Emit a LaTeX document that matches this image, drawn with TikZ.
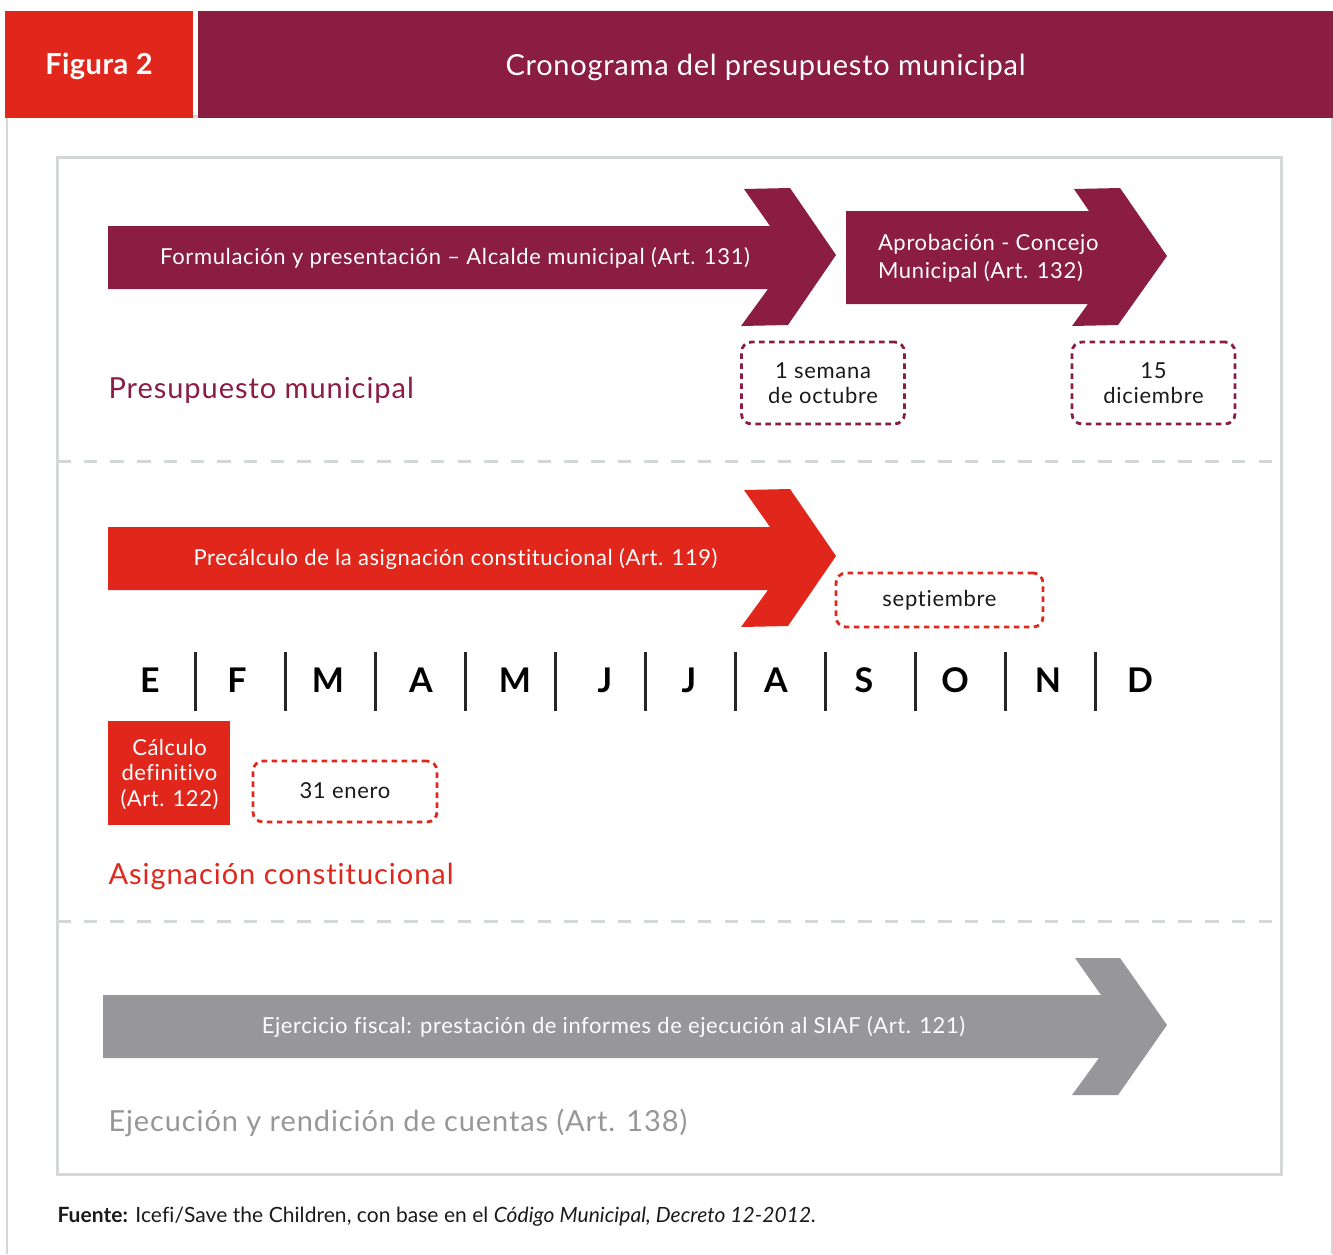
\documentclass[tikz,border=0pt]{standalone}
\usepackage{fontspec}
\setmainfont{Lato}[Ligatures=NoCommon]
\definecolor{maroon}{HTML}{8B1C42}
\definecolor{redc}{HTML}{E1271C}
\definecolor{grayc}{HTML}{97969B}
\definecolor{framec}{HTML}{D3D8D6}
\definecolor{inkc}{HTML}{1A1A1A}
\newcommand{\fs}[3]{\fontsize{#1}{#2}\selectfont\addfontfeature{LetterSpace=#3}}
\tikzset{
  lbl/.style={inner sep=0pt,outer sep=0pt,align=center},
  arrowtext/.style={lbl,text=white,font=\fs{22}{28}{3.0}},
  datebox/.style={lbl,draw=#1,line width=2.8pt,dash pattern=on 5.5pt off 4.5pt,rounded corners=10pt,text=inkc,font=\fs{22}{25.5}{3.2}},
  heading/.style={lbl,anchor=west,font=\fs{29}{34}{3.3}},
  month/.style={lbl,text=black,font=\bfseries\fs{34}{36}{0}},
  sep/.style={line width=3pt,draw=black!85},
  dashsep/.style={line width=3pt,draw=framec,dash pattern=on 13.5pt off 13.2pt},
}
\begin{document}
\begin{tikzpicture}[x=1pt,y=-1pt]
\useasboundingbox (0,0) rectangle (1333,1254);
% outer frame
\draw[framec,line width=2.4pt] (7,118) -- (7,1254);
\draw[framec,line width=2.4pt] (1332,118) -- (1332,1254);
% header
\fill[redc] (5,11) rectangle (193,118);
\fill[maroon] (198,11) rectangle (1333,118);
\fill[framec] (193,115) rectangle (198,118);
\node[lbl,text=white,font=\bfseries\fs{29}{32}{1.6}] (fig) at (99,66) {Figura 2};
\node[lbl,text=white,font=\fs{29}{34}{2.6}] (title) at (765.5,67.5) {Cronograma del presupuesto municipal};
% inner frame
\draw[framec,line width=3pt] (57,157) rectangle (1281.5,1174);
\draw[dashsep] (57,461) -- (1281.5,461);
\draw[dashsep] (57,921) -- (1281.5,921);
% arrows
\fill[maroon] (108,226) -- (770,226) -- (744,189) -- (790,188) -- (836,255) -- (788,325) -- (741,326) -- (768,289) -- (108,289) -- cycle;
\fill[maroon] (846,211) -- (1089,211) -- (1074,189) -- (1120,188) -- (1167,256) -- (1118,325) -- (1072,326) -- (1088,304) -- (846,304) -- cycle;
\fill[redc] (108,527) -- (770,527) -- (744,490) -- (790,489) -- (836,556) -- (788,626) -- (741,627) -- (768,590) -- (108,590) -- cycle;
\fill[grayc] (103,995) -- (1101,995) -- (1075,958) -- (1120,958) -- (1167,1025) -- (1118,1095) -- (1072,1095) -- (1099,1058) -- (103,1058) -- cycle;
\node[arrowtext] (a1) at (455,257.5) {Formulación y presentación – Alcalde municipal (Art. 131)};
\node[arrowtext,anchor=west,align=left] (a2) at (878,258) {Aprobación - Concejo\\Municipal (Art. 132)};
\node[arrowtext,font=\fs{22}{28}{2.7}] (a3) at (455.5,558.5) {Precálculo de la asignación constitucional (Art. 119)};
\node[arrowtext,font=\fs{22}{28}{2.6}] (a4) at (613.5,1027) {Ejercicio fiscal: prestación de informes de ejecución al SIAF (Art. 121)};
% date boxes
\node[datebox=maroon,minimum width=163pt,minimum height=82pt] (d1) at (823,383) {1 semana\\de octubre};
\node[datebox=maroon,minimum width=163pt,minimum height=82pt] (d2) at (1153.5,383) {15\\diciembre};
\node[datebox=redc,minimum width=207pt,minimum height=54pt] (d3) at (939.5,600) {\raisebox{-2pt}{septiembre}};
\node[datebox=redc,minimum width=184pt,minimum height=61pt] (d4) at (345,791.5) {\raisebox{1pt}{31 enero}};
% headings
\node[heading,text=maroon] (h1) at (108.5,390.5) {Presupuesto municipal};
\node[heading,text=redc] (h2) at (108.5,876) {Asignación constitucional};
\node[heading,text=grayc,font=\fs{29}{34}{3.1}] (h3) at (108.5,1123) {Ejecución y rendición de cuentas (Art. 138)};
% months
\foreach \nm/\l/\x in {m1/E/150,m2/F/237,m3/M/328,m4/A/421,m5/M/515,m6/J/605,m7/J/689,m8/A/776,m9/S/864,m10/O/955,m11/N/1048,m12/D/1140}
  \node[month] (\nm) at (\x,680) {\l};
\foreach \x in {195.5,285.5,375.5,465.5,555.5,645.5,735.5,825.5,915.5,1005.5,1095.5}
  \draw[sep] (\x,652) -- (\x,711);
% calculo
\fill[redc] (108,721) rectangle (230,825);
\node[lbl,text=white,font=\fs{22}{25.5}{2.4}] (calc) at (169.5,774) {Cálculo\\definitivo\\(Art. 122)};
% source
\node[lbl,anchor=west,text=inkc,font=\fs{21}{24}{0.3}] (src) at (57.5,1216.5) {\textbf{Fuente:} Icefi/Save the Children, con base en el \textit{Código Municipal, Decreto 12-2012.}};
\end{tikzpicture}
\end{document}
